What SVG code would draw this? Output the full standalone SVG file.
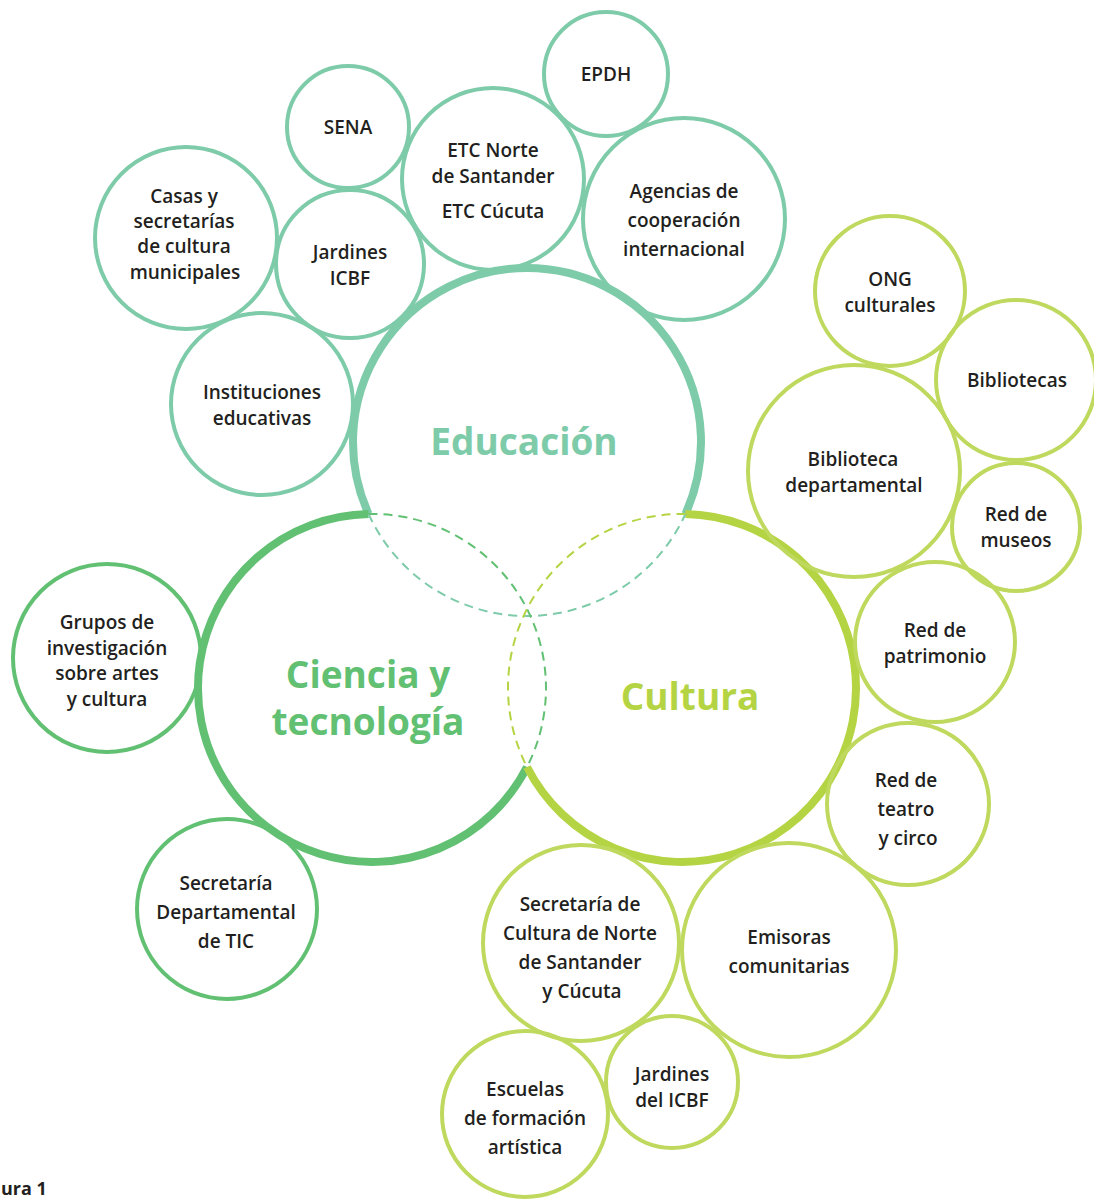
<svg xmlns="http://www.w3.org/2000/svg" width="1094" height="1199" viewBox="0 0 1094 1199">
<style>
.bg{fill:#ffffff}
.t{fill:none;stroke:#7ecba9;stroke-width:4}
.l{fill:none;stroke:#bfd95e;stroke-width:4}
.g{fill:none;stroke:#62c073;stroke-width:4}
.lab{font-family:"Open Sans","Noto Sans",sans-serif;font-weight:600;font-size:19px;fill:#231f20;text-anchor:middle}
.big{font-family:"Open Sans","Noto Sans",sans-serif;font-weight:700;font-size:37px;text-anchor:middle}
.dash{fill:none;stroke-width:2;stroke-dasharray:9 6}
</style>
<rect class="bg" x="0" y="0" width="1094" height="1199"/>
<g id="connectors">
<path d="M 368.6 514 A 174 174 0 1 1 685.4 514" fill="none" stroke="#7ecba9" stroke-width="8"/>
<path d="M 368.6 514 A 174 174 0 1 0 527 767" fill="none" stroke="#62c073" stroke-width="8"/>
<path d="M 685.4 514 A 174 174 0 1 1 527 767" fill="none" stroke="#b5d444" stroke-width="8"/>
<path class="dash" d="M 368.6 514 A 174 174 0 0 0 685.4 514" stroke="#7ecba9"/>
<path class="dash" d="M 368.6 514 A 174 174 0 0 1 527 767" stroke="#62c073"/>
<path class="dash" d="M 685.4 514 A 174 174 0 0 0 527 767" stroke="#b5d444"/>
</g>
<g id="educacion"><text class="big" x="524" y="455" fill="#7ecba9">Educación</text></g>
<g id="ciencia"><text class="big" x="368" y="688" fill="#62c073">Ciencia y</text><text class="big" x="368" y="735" fill="#62c073">tecnología</text></g>
<g id="cultura"><text class="big" x="690" y="710" fill="#b5d444">Cultura</text></g>

<g id="epdh"><circle class="t" cx="606" cy="74" r="62"/><text class="lab" x="606" y="81">EPDH</text></g>
<g id="sena"><circle class="t" cx="348" cy="127" r="61"/><text class="lab" x="348" y="134">SENA</text></g>
<g id="etc"><circle class="t" cx="493" cy="179" r="91"/><text class="lab" x="493" y="157">ETC Norte</text><text class="lab" x="493" y="183">de Santander</text><text class="lab" x="493" y="218">ETC Cúcuta</text></g>
<g id="agencias"><circle class="t" cx="684" cy="219" r="101"/><text class="lab" x="684" y="198">Agencias de</text><text class="lab" x="684" y="227">cooperación</text><text class="lab" x="684" y="256">internacional</text></g>
<g id="casas"><circle class="t" cx="186" cy="238" r="91"/><text class="lab" x="184" y="203">Casas y</text><text class="lab" x="184" y="228">secretarías</text><text class="lab" x="184" y="253">de cultura</text><text class="lab" x="185" y="279">municipales</text></g>
<g id="jardines"><circle class="t" cx="350" cy="264" r="74"/><text class="lab" x="350" y="259">Jardines</text><text class="lab" x="350" y="285">ICBF</text></g>
<g id="instituciones"><circle class="t" cx="262" cy="404" r="91"/><text class="lab" x="262" y="399">Instituciones</text><text class="lab" x="262" y="425">educativas</text></g>

<g id="ong"><circle class="l" cx="890" cy="291" r="75"/><text class="lab" x="890" y="286">ONG</text><text class="lab" x="890" y="312">culturales</text></g>
<g id="bibliotecas"><circle class="l" cx="1016" cy="380" r="80"/><text class="lab" x="1017" y="387">Bibliotecas</text></g>
<g id="bibdep"><circle class="l" cx="854" cy="471" r="106"/><text class="lab" x="853" y="466">Biblioteca</text><text class="lab" x="854" y="492">departamental</text></g>
<g id="museos"><circle class="l" cx="1016" cy="527" r="64"/><text class="lab" x="1016" y="521">Red de</text><text class="lab" x="1016" y="547">museos</text></g>
<g id="patrimonio"><circle class="l" cx="935" cy="642" r="80"/><text class="lab" x="935" y="637">Red de</text><text class="lab" x="935" y="663">patrimonio</text></g>
<g id="teatro"><circle class="l" cx="908" cy="804" r="81"/><text class="lab" x="906" y="787">Red de</text><text class="lab" x="906" y="816">teatro</text><text class="lab" x="908" y="845">y circo</text></g>
<g id="emisoras"><circle class="l" cx="789" cy="950" r="107"/><text class="lab" x="789" y="944">Emisoras</text><text class="lab" x="789" y="973">comunitarias</text></g>
<g id="seccultura"><circle class="l" cx="581" cy="943" r="98"/><text class="lab" x="580" y="911">Secretaría de</text><text class="lab" x="580" y="940">Cultura de Norte</text><text class="lab" x="580" y="969">de Santander</text><text class="lab" x="582" y="998">y Cúcuta</text></g>
<g id="jardinesicbf"><circle class="l" cx="672" cy="1082" r="66"/><text class="lab" x="672" y="1081">Jardines</text><text class="lab" x="672" y="1107">del ICBF</text></g>
<g id="escuelas"><circle class="l" cx="525" cy="1114" r="83"/><text class="lab" x="525" y="1096">Escuelas</text><text class="lab" x="525" y="1125">de formación</text><text class="lab" x="525" y="1154">artística</text></g>

<g id="grupos"><circle class="g" cx="107" cy="658" r="94"/><text class="lab" x="107" y="629">Grupos de</text><text class="lab" x="107" y="655">investigación</text><text class="lab" x="107" y="680">sobre artes</text><text class="lab" x="107" y="706">y cultura</text></g>
<g id="tic"><circle class="g" cx="227" cy="909" r="90"/><text class="lab" x="226" y="890">Secretaría</text><text class="lab" x="226" y="919">Departamental</text><text class="lab" x="226" y="948">de TIC</text></g>

<text x="1" y="1195" font-family="Open Sans, sans-serif" font-weight="700" font-size="18" fill="#231f20">ura 1</text>
</svg>
